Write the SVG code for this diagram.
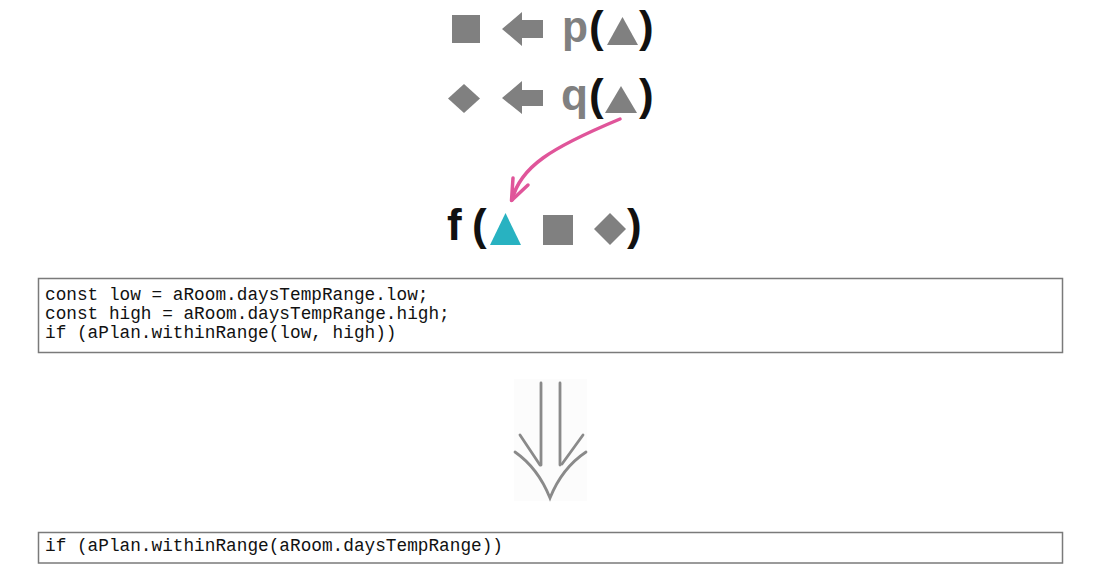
<svg xmlns="http://www.w3.org/2000/svg" width="1100" height="571" viewBox="0 0 1100 571">
<style>
.g{fill:#808080}
.sym{font-family:"Liberation Sans",Arial,sans-serif;font-weight:bold;font-size:44px}
.gt{fill:#808080}
.bk{fill:#111}
.code{font-family:"Liberation Mono","Courier New",monospace;font-size:17.75px;fill:#111}
.box{fill:#fff;stroke:#7a7a7a;stroke-width:1.5}
.dbl{fill:none;stroke:#8a8a8a;stroke-width:2.8;stroke-linecap:round}
.pink{fill:none;stroke:#e0559a;stroke-width:3.5;stroke-linecap:round;stroke-linejoin:round}
</style>
<rect width="1100" height="571" fill="#fff"/>
<g id="row-p">
  <rect class="g" x="452" y="15" width="28" height="28"/>
  <polygon class="g" points="502,29 522,12 522,20 543,20 543,38 522,38 522,46"/>
  <text class="sym gt" x="562" y="42" textLength="26" lengthAdjust="spacingAndGlyphs">p</text>
  <text class="sym bk" x="589" y="42">(</text>
  <polygon class="g" points="607,45 622.5,17 638,45"/>
  <text class="sym bk" x="639" y="42">)</text>
</g>
<g id="row-q">
  <polygon class="g" points="464,84 480,98.5 464,113 448,98.5"/>
  <polygon class="g" points="502,98 522,81 522,90 543,90 543,106 522,106 522,114"/>
  <text class="sym gt" x="561" y="110" textLength="27" lengthAdjust="spacingAndGlyphs">q</text>
  <text class="sym bk" x="589" y="110">(</text>
  <polygon class="g" points="605,113 621,86 637,113"/>
  <text class="sym bk" x="639" y="110">)</text>
</g>
<g id="row-f">
  <text class="sym bk" x="447" y="240">f</text>
  <text class="sym bk" x="472" y="240">(</text>
  <polygon fill="#28b2c1" points="490,245 505.5,213 521,245"/>
  <rect class="g" x="543" y="215" width="30" height="30"/>
  <polygon class="g" points="610,213 626,229 610,245 594,229"/>
  <text class="sym bk" x="627" y="240">)</text>
</g>
<g id="connectors">
  <path class="pink" d="M620,119 Q565,142 543,158 Q518,176 512,200"/>
  <path class="pink" d="M513,178 L511.5,200.5 L528,185"/>
  <g id="double-arrow">
    <rect x="514" y="379" width="73" height="122" fill="#fcfcfc"/>
    <line class="dbl" x1="541" y1="383" x2="541" y2="465"/>
    <line class="dbl" x1="560" y1="383" x2="560" y2="465"/>
    <line class="dbl" x1="520" y1="435" x2="540" y2="465"/>
    <line class="dbl" x1="583" y1="435" x2="562" y2="464"/>
    <path class="dbl" d="M515,452 Q538,468 550,498 Q562,468 586,452"/>
  </g>
</g>
<g id="code-before">
  <rect class="box" x="38.5" y="278.5" width="1024" height="74"/>
  <text class="code" x="45" y="300">const low = aRoom.daysTempRange.low;</text>
  <text class="code" x="45" y="319.2">const high = aRoom.daysTempRange.high;</text>
  <text class="code" x="45" y="338.4">if (aPlan.withinRange(low, high))</text>
</g>
<g id="code-after">
  <rect class="box" x="38.5" y="532.5" width="1024" height="30.5"/>
  <text class="code" x="45" y="550.5">if (aPlan.withinRange(aRoom.daysTempRange))</text>
</g>
</svg>
